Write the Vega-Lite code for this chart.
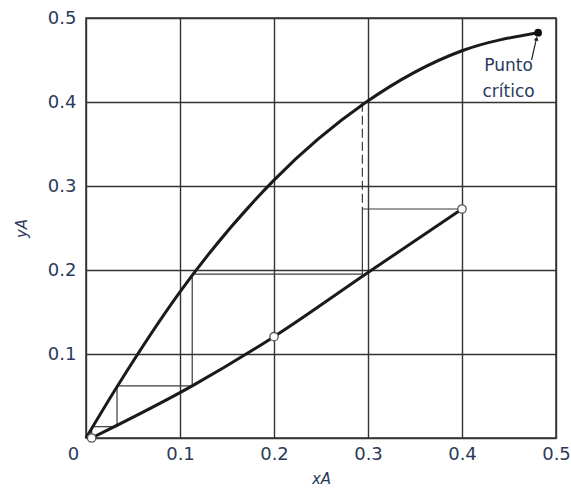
{
  "$schema": "https://vega.github.io/schema/vega-lite/v6.json",
  "width": 470,
  "height": 420,
  "autosize": "none",
  "padding": {"left": 86, "top": 18, "right": 15, "bottom": 55},
  "background": "white",
  "config": {
    "view": {"stroke": "#333333", "strokeWidth": 1.5},
    "font": "DejaVu Sans",
    "axis": {
      "grid": true,
      "gridColor": "#333333",
      "gridWidth": 1.4,
      "gridOpacity": 1,
      "ticks": false,
      "domain": false,
      "labelFont": "DejaVu Sans",
      "labelFontSize": 18,
      "labelColor": "#2a3a5c",
      "labelFlush": false,
      "labelOverlap": false,
      "titleFont": "DejaVu Sans",
      "titleFontSize": 15,
      "titleFontStyle": "italic",
      "titleFontWeight": "normal",
      "titleColor": "#2a3a5c"
    }
  },
  "datasets": {
    "eq": [
      {"x": 0, "y": 0},
      {"x": 0.033, "y": 0.061},
      {"x": 0.1, "y": 0.174},
      {"x": 0.2, "y": 0.307},
      {"x": 0.297, "y": 0.399},
      {"x": 0.4, "y": 0.461},
      {"x": 0.481, "y": 0.4825}
    ],
    "op": [
      {"x": 0.006, "y": 0},
      {"x": 0.113, "y": 0.062},
      {"x": 0.2, "y": 0.1206},
      {"x": 0.3, "y": 0.197},
      {"x": 0.4, "y": 0.2726}
    ],
    "openPts": [
      {"x": 0.006, "y": 0},
      {"x": 0.2, "y": 0.1206},
      {"x": 0.4, "y": 0.2726}
    ],
    "critical": [
      {"x": 0.481, "y": 0.4825}
    ],
    "steps": [
      {"x": 0.294, "x2": 0.4, "y": 0.2726, "y2": 0.2726},
      {"x": 0.294, "x2": 0.294, "y": 0.2726, "y2": 0.195},
      {"x": 0.113, "x2": 0.294, "y": 0.195, "y2": 0.195},
      {"x": 0.113, "x2": 0.113, "y": 0.195, "y2": 0.062},
      {"x": 0.033, "x2": 0.113, "y": 0.062, "y2": 0.062},
      {"x": 0.033, "x2": 0.033, "y": 0.062, "y2": 0.0135},
      {"x": 0.006, "x2": 0.033, "y": 0.0135, "y2": 0.0135},
      {"x": 0.006, "x2": 0.006, "y": 0.0135, "y2": 0.0}
    ],
    "dashedStep": [
      {"x": 0.294, "x2": 0.294, "y": 0.399, "y2": 0.2726}
    ],
    "arrow": [
      {"x": 0.474, "x2": 0.4793, "y": 0.45, "y2": 0.476}
    ],
    "arrowHead": [
      {"x": 0.4793, "y": 0.4755}
    ],
    "labels": [
      {"x": 0.4495, "y": 0.443, "text": "Punto"},
      {"x": 0.4495, "y": 0.4125, "text": "crítico"}
    ]
  },
  "encoding": {
    "x": {
      "field": "x",
      "type": "quantitative",
      "scale": {"domain": [0, 0.5], "nice": false, "zero": false},
      "axis": {
        "values": [0, 0.1, 0.2, 0.3, 0.4, 0.5],
        "labelExpr": "datum.value === 0 ? '0' : format(datum.value, '.1f')",
        "labelPadding": 7,
        "labelOffset": {"condition": {"test": "datum.value === 0", "value": -13}, "value": 0},
        "title": "xA",
        "titlePadding": 8
      }
    },
    "y": {
      "field": "y",
      "type": "quantitative",
      "scale": {"domain": [0, 0.5], "nice": false, "zero": false},
      "axis": {
        "values": [0, 0.1, 0.2, 0.3, 0.4, 0.5],
        "labelExpr": "datum.value === 0 ? '' : format(datum.value, '.1f')",
        "labelPadding": 10,
        "title": "yA",
        "titlePadding": 18
      }
    }
  },
  "layer": [
    {
      "data": {"name": "steps"},
      "mark": {"type": "rule", "color": "#3a3a3a", "strokeWidth": 1.2},
      "encoding": {"x2": {"field": "x2"}, "y2": {"field": "y2"}}
    },
    {
      "data": {"name": "dashedStep"},
      "mark": {"type": "rule", "color": "#3a3a3a", "strokeWidth": 1.2, "strokeDash": [9, 4]},
      "encoding": {"x2": {"field": "x2"}, "y2": {"field": "y2"}}
    },
    {
      "data": {"name": "eq"},
      "mark": {"type": "line", "color": "#1a1a1a", "strokeWidth": 3, "interpolate": "monotone"},
      "encoding": {}
    },
    {
      "data": {"name": "op"},
      "mark": {"type": "line", "color": "#1a1a1a", "strokeWidth": 3, "interpolate": "monotone"},
      "encoding": {}
    },
    {
      "data": {"name": "openPts"},
      "mark": {"type": "point", "filled": true, "fill": "white", "stroke": "#555555", "strokeWidth": 1.3, "size": 70, "opacity": 1},
      "encoding": {}
    },
    {
      "data": {"name": "critical"},
      "mark": {"type": "point", "filled": true, "color": "#111111", "size": 60, "opacity": 1},
      "encoding": {}
    },
    {
      "data": {"name": "arrow"},
      "mark": {"type": "rule", "color": "#222222", "strokeWidth": 1.2},
      "encoding": {"x2": {"field": "x2"}, "y2": {"field": "y2"}}
    },
    {
      "data": {"name": "arrowHead"},
      "mark": {"type": "point", "shape": "triangle-up", "filled": true, "color": "#222222", "size": 22, "angle": 11, "opacity": 1},
      "encoding": {}
    },
    {
      "data": {"name": "labels"},
      "mark": {"type": "text", "font": "DejaVu Sans", "fontSize": 17, "color": "#2a3a5c", "align": "center", "baseline": "middle"},
      "encoding": {"text": {"field": "text"}}
    }
  ]
}
